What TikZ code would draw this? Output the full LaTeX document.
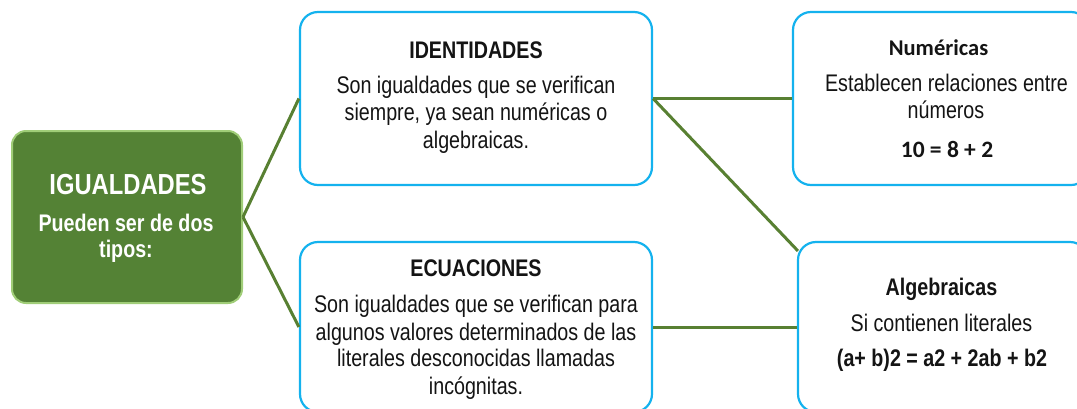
\documentclass[tikz,border=0pt]{standalone}
\usepackage{fontspec}
\setmainfont{Liberation Sans}[FakeStretch=0.82]
\newfontfamily\calib{Carlito}
\usetikzlibrary{calc}
\definecolor{boxblue}{RGB}{20,178,238}
\definecolor{gfill}{RGB}{84,130,53}
\definecolor{grim}{RGB}{160,205,120}
\definecolor{conncol}{RGB}{88,128,50}
\definecolor{ink}{RGB}{20,20,20}
\tikzset{
  bluebox/.style={draw=boxblue, line width=2.2pt, rounded corners=18pt, fill=white, inner sep=0pt},
  greenbox/.style={draw=grim, line width=2pt, rounded corners=14pt, fill=gfill, inner sep=0pt},
  conn/.style={draw=conncol, line width=3pt},
  txt/.style={anchor=base, inner sep=0pt, text=ink, font=\fontsize{24}{27}\selectfont},
  ttl/.style={txt, font=\fontsize{24}{27}\selectfont\bfseries},
  ctl/.style={txt, font=\calib\fontsize{22.5}{27}\selectfont\bfseries},
  wtxt/.style={anchor=base, inner sep=0pt, text=white, font=\fontsize{24}{27}\selectfont\bfseries}
}
\begin{document}
\begin{tikzpicture}[x=1pt,y=-1pt]
\useasboundingbox (0,0) rectangle (1077,408);
% boxes
\node[greenbox, minimum width=230pt, minimum height=172pt] (igu) at (127,217) {};
\node[bluebox, minimum width=352pt, minimum height=173pt] (ident) at (476,98.5) {};
\node[bluebox, minimum width=352pt, minimum height=170pt] (ecu) at (476,327) {};
\node[bluebox, minimum width=296pt, minimum height=173pt] (num) at (941,98.5) {};
\node[bluebox, minimum width=290pt, minimum height=170pt] (alg) at (943,327) {};
% connectors
\draw[conn] (igu.east) -- (ident.west);
\draw[conn] (igu.east) -- (ecu.west);
\draw[conn] (ident.east) -- (num.west);
\draw[conn] (ident.east) -- ($(alg.north west)+(1,10)$);
\draw[conn] (ecu.east) -- (alg.west);
% green box text
\node[wtxt, font=\fontsize{29}{30}\selectfont\bfseries] (g1) at (128,194) {IGUALDADES};
\node[wtxt] (g2) at (126,231.7) {Pueden ser de dos};
\node[wtxt] (g3) at (126,257) {tipos:};
% identidades
\node[ttl] (i0) at (476,58) {IDENTIDADES};
\node[txt] (i1) at (476,93.3) {Son igualdades que se verifican};
\node[txt] (i2) at (476,120.7) {siempre, ya sean numéricas o};
\node[txt] (i3) at (476,148) {algebraicas.};
% ecuaciones
\node[ttl] (e0) at (476,276.7) {ECUACIONES};
\node[txt] (e1) at (476,312.7) {Son igualdades que se verifican para};
\node[txt] (e2) at (476,340) {algunos valores determinados de las};
\node[txt] (e3) at (476,366.7) {literales desconocidas llamadas};
\node[txt] (e4) at (476,394) {incógnitas.};
% numericas
\node[ctl] (n0) at (938.5,55) {Numéricas};
\node[txt] (n1) at (946.5,91.7) {Establecen relaciones entre};
\node[txt] (n2) at (946,118.3) {números};
\node[ctl, font=\calib\fontsize{23.5}{27}\selectfont\bfseries] (n3) at (947,157.3) {10 = 8 + 2};
% algebraicas
\node[ttl] (a0) at (941.5,295) {Algebraicas};
\node[txt] (a1) at (941.5,331.7) {Si contienen literales};
\node[ttl] (a2) at (942,366.7) {(a+ b)2 = a2 + 2ab + b2};
\end{tikzpicture}
\end{document}
